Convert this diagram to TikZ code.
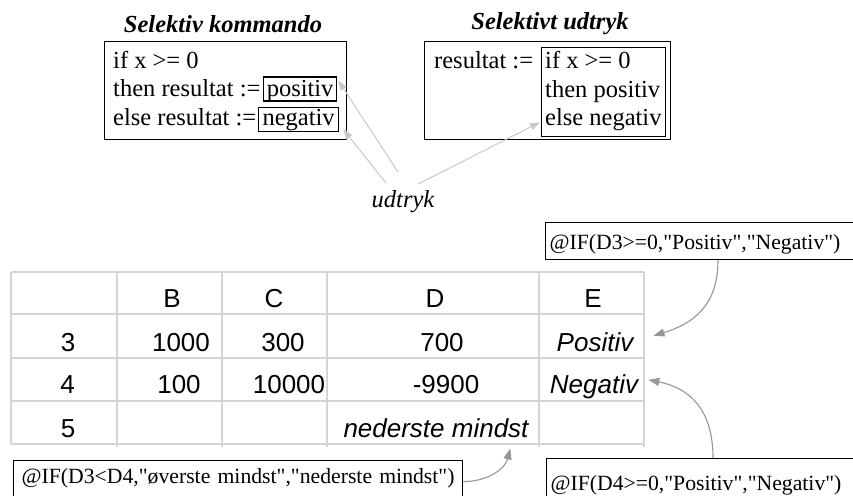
\documentclass[tikz,border=0pt]{standalone}
\usepackage{fontspec}
\setmainfont{Liberation Serif}
\setsansfont{Liberation Sans}
\newfontfamily\plainserif{Liberation Serif}[Ligatures=TeXOff]
\usetikzlibrary{arrows.meta,calc}
\definecolor{gridgray}{RGB}{212,212,212}
\definecolor{lightarrow}{RGB}{200,200,200}
\definecolor{midarrow}{RGB}{150,150,150}
\newcommand\mycodefont{\fontsize{24.5}{29}\selectfont}
\newcommand\mytitlefont{\fontsize{24.5}{29}\selectfont\bfseries\itshape}
\newcommand\mycellfont{\sffamily\fontsize{26}{30}\selectfont}
\newcommand\myformfont{\plainserif\fontsize{21.7}{26}\selectfont}
\begin{document}
\begin{tikzpicture}[x=1pt,y=-1pt,
  code/.style={inner sep=0pt, anchor=base west, font=\mycodefont},
  heading/.style={inner sep=0pt, font=\mytitlefont},
  frame/.style={draw=black, line width=1.3pt, inner sep=0pt, anchor=north west},
  hilite/.style={draw=black, line width=1.2pt, inner xsep=0pt, inner ysep=1pt, anchor=base west, font=\mycodefont},
  gridline/.style={draw=gridgray, line width=1.5pt},
  cell/.style={inner sep=1pt, anchor=base, font=\mycellfont},
  formula/.style={draw=black, line width=1.2pt, anchor=north west, font=\myformfont, inner ysep=0pt},
  pointer/.style={draw=lightarrow, line width=1pt, -{Triangle[length=10pt,width=7pt]}},
  curved/.style={draw=midarrow, line width=1.1pt, -{Triangle[length=11pt,width=8pt]}}]
\useasboundingbox (0,0) rectangle (853,495);
\clip (0,0) rectangle (853,495);

% --- selective command ---
\node[heading] (t1) at (223,24) {Selektiv kommando};
\node[frame, minimum width=242pt, minimum height=98pt] (cmd) at (104,41) {};
\node[code] (c1) at (113,68) {if x >= 0};
\node[code] (c2) at (113,96.5) {then resultat :=};
\node[code] (c3) at (113,125) {else resultat :=};
\node[hilite, minimum width=73pt, text height=18.5pt, text depth=3.5pt] (pos) at (263,96.5) {positiv};
\node[hilite, minimum width=80pt, text height=16.3pt, text depth=5.7pt] (neg) at (258,125) {negativ};

% --- selective expression ---
\node[heading] (t2) at (550,24) {Selektivt udtryk};
\node[frame, minimum width=246pt, minimum height=98pt] (expr) at (424,41) {};
\node[frame, line width=1.2pt, minimum width=124pt, minimum height=89pt] (ib) at (541,47) {};
\node[code] (r0) at (434,68) {resultat :=};
\node[code] (r1) at (545,68) {if x >= 0};
\node[code] (r2) at (545,97) {then positiv};
\node[code] (r3) at (545,125) {else negativ};

% --- label with pointers ---
\node[inner sep=0pt, anchor=base, font=\mycodefont\itshape] (ud) at (403,207) {udtryk};
\draw[pointer] ($(ud.base)+(-5,-35)$) -- ($(pos.north east)+(1,4)$);
\draw[pointer] ($(ud.base)+(-17,-24)$) -- ($(neg.south east)+(4,-3)$);
\draw[pointer] ($(ud.base)+(15,-23)$) -- ($(ib.south west)+(-1,-15)$);

% --- spreadsheet grid ---
\foreach \y in {272,314,358,401,444} \draw[gridline] (11,\y) -- (644,\y);
\draw[gridline] (11,272) -- (11,444);
\foreach \x in {117,222,327,539,644} \draw[gridline] (\x,272) -- (\x,447);

% header row
\node[cell] (hB) at (172,307) {B};
\node[cell] (hC) at (274,307) {C};
\node[cell] (hD) at (435,307) {D};
\node[cell] (hE) at (593,307) {E};
% row 3
\node[cell] (a3) at (68,351) {3};
\node[cell] (b3) at (181,351) {1000};
\node[cell] (c3c) at (283,351) {300};
\node[cell] (d3) at (442,351) {700};
\node[cell, font=\mycellfont\itshape] (pE) at (595,351) {Positiv};
% row 4
\node[cell] (a4) at (67.5,393.5) {4};
\node[cell] (b4) at (179,393.5) {100};
\node[cell] (c4) at (289,393.5) {10000};
\node[cell] (d4) at (446,393.5) {-9900};
\node[cell, font=\mycellfont\itshape] (nE) at (594,393.5) {Negativ};
% row 5
\node[cell] (a5) at (68,437) {5};
\node[cell, font=\mycellfont\itshape] (nm) at (436,437) {nederste mindst};

% --- formulas ---
\node[formula, text width=310pt, align=left, inner xsep=4pt, text height=27.3pt, text depth=9.7pt] (f1) at (545,222)
  {@IF(D3>=0,"Positiv","Negativ")};
\node[formula, text width=310pt, align=left, inner xsep=4pt, text height=32pt, text depth=20pt] (f2) at (546,458)
  {@IF(D4>=0,"Positiv","Negativ")};
\node[formula, text width=449pt, align=center, inner xsep=0pt, text height=23pt, text depth=25pt] (f3) at (13,460)
  {@IF(D3<D4,"øverste mindst","nederste mindst")};

\draw[curved] ($(f1.south west)+(173,0)$) .. controls +(0,45) and +(40,-12) .. ($(pE.east)+(19,-6)$);
\draw[curved] ($(f2.north west)+(167,0)$) .. controls +(0,-50) and +(40,8) .. ($(nE.east)+(9,-7)$);
\draw[curved] ($(f3.east)+(0,-3)$) .. controls +(25,0) and +(-5,20) .. ($(nm.south east)+(-19.5,10)$);
\end{tikzpicture}
\end{document}
